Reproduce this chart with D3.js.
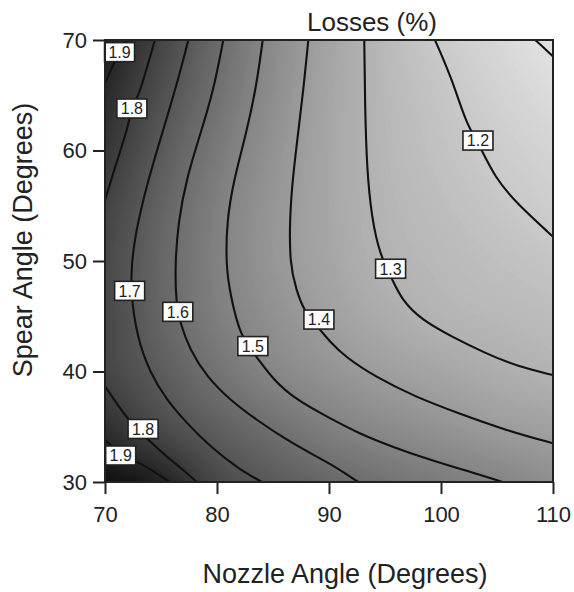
<!DOCTYPE html>
<html>
<head>
<meta charset="utf-8">
<script src="https://cdn.jsdelivr.net/npm/d3@7"></script>
<style>
  body { margin: 0; background: #fff; }
  text { font-family: "Liberation Sans", Arial, sans-serif; fill: #222; }
</style>
</head>
<body>
<svg id="chart" width="574" height="592"></svg>
<script>
// Losses (%) on a 5 degree grid (used for the shading)
const nozzle = [70, 75, 80, 85, 90, 95, 100, 105, 110];
const spear = [70, 65, 60, 55, 50, 45, 40, 35, 30]; // rows, top to bottom
const losses = [
  [1.96, 1.782, 1.618, 1.477, 1.363, 1.271, 1.194, 1.138, 1.085],
  [1.9, 1.736, 1.589, 1.462, 1.358, 1.278, 1.218, 1.165, 1.12],
  [1.847, 1.689, 1.553, 1.442, 1.353, 1.283, 1.233, 1.188, 1.152],
  [1.795, 1.651, 1.526, 1.428, 1.351, 1.29, 1.252, 1.214, 1.18],
  [1.767, 1.633, 1.518, 1.426, 1.358, 1.3, 1.272, 1.245, 1.218],
  [1.772, 1.64, 1.532, 1.45, 1.383, 1.331, 1.293, 1.276, 1.258],
  [1.78, 1.679, 1.579, 1.494, 1.438, 1.39, 1.357, 1.324, 1.297],
  [1.875, 1.757, 1.665, 1.592, 1.523, 1.475, 1.437, 1.399, 1.376],
  [2.02, 1.933, 1.769, 1.689, 1.63, 1.581, 1.542, 1.503, 1.46],
];

// iso-loss lines: [nozzle, spear] points
const iso11 = [[108.4, 70], [109.2, 69.3], [110, 68.5]];
const iso12 = [[99.46, 70], [100.96, 66.53], [102.3, 62.31], [103.26, 60.86], [104.82, 57.48],
  [106.9, 55.07], [110, 52.2]];
const iso13 = [[93.15, 70], [93.21, 64.42], [93.37, 58.42], [93.81, 53.89], [94.55, 50.54],
  [95.6, 48.46], [96.49, 46.47], [98.28, 44.66], [100.96, 43.15], [103.93, 41.67],
  [106.88, 40.43], [110, 39.68]];
const iso14 = [[88.15, 70], [87.7, 65.32], [87.11, 60.5], [86.52, 55.37], [86.46, 49.64],
  [87.11, 47.38], [87.68, 45.57], [89.46, 43.48], [90.09, 42.7], [91.43, 41.34],
  [94.11, 39.53], [97.68, 37.72], [101.54, 36.22], [105.71, 34.71], [110, 33.5]];
const iso15 = [[84.08, 70], [83.54, 65.93], [82.65, 61.7], [81.46, 57.18], [80.87, 53.56],
  [80.8, 49.64], [81.16, 47.1], [82.05, 43.21], [83.54, 41.34], [85.03, 39.23],
  [87.11, 37.42], [89.82, 35.91], [92.62, 34.41], [95.6, 33.2], [99.46, 31.84],
  [103.04, 30.79], [105.5, 30]];
const iso16 = [[80.56, 70], [79.67, 65.32], [78.48, 61.4], [77.29, 57.51], [76.54, 53.56],
  [76.25, 49.64], [76.34, 46.29], [76.7, 44.39], [77.59, 41.95], [79.08, 39.53],
  [81.16, 37.42], [83.54, 35.61], [86.22, 33.8], [88.9, 32.29], [90.09, 31.66],
  [91.43, 30.79], [92.62, 30]];
const iso17 = [[77.44, 70], [76.4, 65.93], [75.06, 61.4], [73.72, 56.88], [72.68, 52.35],
  [72.38, 49.64], [72.3, 47.3], [72.83, 43.15], [74.02, 39.86], [75.51, 37.42],
  [77.29, 35.34], [79.38, 33.2], [82.05, 31.09], [84.02, 30]];
const iso18a = [[74.46, 70], [73.72, 67.44], [73.13, 65.32], [72.37, 63.8], [71.94, 61.7],
  [71.04, 58.99], [70.15, 55.97], [69.9, 55.2]];
const iso18b = [[69.9, 38.8], [71.04, 37.15], [72.05, 35.61], [74.02, 33.65], [75.51, 32.29],
  [76.99, 31.09], [78.2, 30]];
const iso19a = [[72.0, 70], [71.3, 68.9], [70.6, 67.5], [69.9, 65.8]];
const iso19b = [[69.9, 33.9], [71.43, 32.44], [73.13, 31.72], [74.6, 30.79], [75.8, 30]];
const isoLines = [iso11, iso12, iso13, iso14, iso15, iso16, iso17, iso18a, iso18b, iso19a, iso19b];

// contour labels: level, nozzle angle, spear angle
const labels = [
  [1.9, 71.3, 68.9], [1.8, 72.4, 63.8], [1.7, 72.2, 47.3], [1.6, 76.5, 45.4],
  [1.5, 83.2, 42.3], [1.4, 89.1, 44.7], [1.3, 95.5, 49.3], [1.2, 103.3, 60.9],
  [1.8, 73.4, 34.8], [1.9, 71.4, 32.4],
];
const xTicks = [70, 80, 90, 100, 110];
const yTicks = [30, 40, 50, 60, 70];

const svg = d3.select("#chart");
const plot = { left: 105, right: 553, top: 40, bottom: 482 };

const x = d3.scaleLinear().domain([70, 110]).range([plot.left, plot.right]);
const y = d3.scaleLinear().domain([30, 70]).range([plot.bottom, plot.top]);
const color = d3.scaleLinear().domain([1.1, 2.0]).range(["#e0e0e0", "#131313"]).clamp(true);

// smooth the grid (Catmull-Rom) for a continuous shading
const gstep = nozzle[1] - nozzle[0];
const ni = nozzle.length, nj = spear.length;
function cell(j, i) {
  if (i < 0) return 2 * cell(j, 0) - cell(j, 1);
  if (i >= ni) return 2 * cell(j, ni - 1) - cell(j, ni - 2);
  if (j < 0) return 2 * cell(0, i) - cell(1, i);
  if (j >= nj) return 2 * cell(nj - 1, i) - cell(nj - 2, i);
  return losses[j][i];
}
function cr(p0, p1, p2, p3, t) {
  return 0.5 * (2 * p1 + (p2 - p0) * t + (2 * p0 - 5 * p1 + 4 * p2 - p3) * t * t +
    (3 * p1 - p0 - 3 * p2 + p3) * t * t * t);
}
function surface(gx, gy) {
  const i = Math.min(Math.floor(gx), ni - 2), j = Math.min(Math.floor(gy), nj - 2);
  const tx = gx - i, ty = gy - j;
  const rows = [-1, 0, 1, 2].map((dj) =>
    cr(cell(j + dj, i - 1), cell(j + dj, i), cell(j + dj, i + 1), cell(j + dj, i + 2), tx));
  return cr(rows[0], rows[1], rows[2], rows[3], ty);
}

const step = 0.25;
const nx = Math.round((nozzle[ni - 1] - nozzle[0]) / step) + 1;
const ny = Math.round((spear[0] - spear[nj - 1]) / step) + 1;
const values = new Array(nx * ny);
for (let r = 0; r < ny; r++) {
  for (let c = 0; c < nx; c++) {
    values[r * nx + c] = surface((c * step) / gstep, (r * step) / gstep);
  }
}

const proj = d3.geoTransform({
  point(px, py) {
    this.stream.point(x(nozzle[0] + (px - 0.5) * step), y(spear[0] - (py - 0.5) * step));
  },
});
const path = d3.geoPath(proj);

svg.append("clipPath").attr("id", "clip")
  .append("rect")
  .attr("x", plot.left).attr("y", plot.top)
  .attr("width", plot.right - plot.left).attr("height", plot.bottom - plot.top);

const g = svg.append("g").attr("clip-path", "url(#clip)");

// grey shading
const bandStep = 0.005;
const bands = d3.range(1.05, 2.08, bandStep);
g.append("rect")
  .attr("x", plot.left).attr("y", plot.top)
  .attr("width", plot.right - plot.left).attr("height", plot.bottom - plot.top)
  .attr("fill", color(1.05));
g.selectAll(".band")
  .data(d3.contours().size([nx, ny]).thresholds(bands)(values))
  .join("path")
  .attr("class", "band")
  .attr("d", path)
  .attr("fill", (d) => color(d.value + bandStep / 2));

// contour lines
const line = d3.line()
  .x((d) => x(d[0]))
  .y((d) => y(d[1]))
  .curve(d3.curveBasis);
g.selectAll(".iso")
  .data(isoLines)
  .join("path")
  .attr("class", "iso")
  .attr("d", line)
  .attr("fill", "none")
  .attr("stroke", "#111")
  .attr("stroke-width", 2.1);

// contour labels
const lab = svg.selectAll(".lab")
  .data(labels)
  .join("g")
  .attr("class", "lab")
  .attr("transform", (d) => `translate(${x(d[1])},${y(d[2])})`);
lab.append("rect")
  .attr("x", -15).attr("y", -9.5)
  .attr("width", 30).attr("height", 19)
  .attr("fill", "#fff")
  .attr("stroke", "#222")
  .attr("stroke-width", 1.6);
lab.append("text")
  .attr("text-anchor", "middle")
  .attr("dy", "0.36em")
  .style("font-size", "16px")
  .text((d) => d3.format(".1f")(d[0]));

// axes
const xAxis = svg.append("g")
  .attr("transform", `translate(0,${plot.bottom})`)
  .call(d3.axisBottom(x).tickValues(xTicks).tickSize(12).tickSizeOuter(0).tickPadding(12));
const yAxis = svg.append("g")
  .attr("transform", `translate(${plot.left},0)`)
  .call(d3.axisLeft(y).tickValues(yTicks).tickSize(12).tickSizeOuter(0).tickPadding(6));
[xAxis, yAxis].forEach((a) => {
  a.select(".domain").remove();
  a.selectAll("line").attr("stroke", "#222").attr("stroke-width", 2);
  a.selectAll("text").style("font-size", "22px").attr("fill", "#222");
});

svg.append("rect")
  .attr("x", plot.left).attr("y", plot.top)
  .attr("width", plot.right - plot.left).attr("height", plot.bottom - plot.top)
  .attr("fill", "none")
  .attr("stroke", "#222")
  .attr("stroke-width", 2);

// titles
svg.append("text")
  .attr("x", 372).attr("y", 31)
  .attr("text-anchor", "middle")
  .style("font-size", "26px")
  .text("Losses (%)");
svg.append("text")
  .attr("x", 345).attr("y", 583)
  .attr("text-anchor", "middle")
  .style("font-size", "27px")
  .text("Nozzle Angle (Degrees)");
svg.append("text")
  .attr("transform", "translate(32,240) rotate(-90)")
  .attr("text-anchor", "middle")
  .style("font-size", "27px")
  .text("Spear Angle (Degrees)");
</script>
</body>
</html>
